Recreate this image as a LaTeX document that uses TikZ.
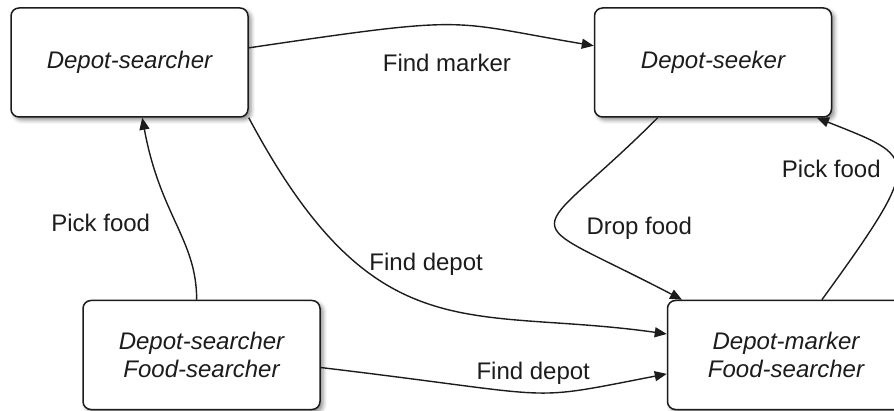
\documentclass[tikz,border=0pt]{standalone}
\usepackage{fontspec}
\setmainfont{Liberation Sans}
\usetikzlibrary{positioning,arrows.meta,shadows.blur}
\definecolor{ink}{HTML}{1C1C1C}

\begin{document}
\begin{tikzpicture}[
  x=0.5pt, y=-0.5pt,
  font=\fontsize{12}{14}\selectfont,
  state/.style={draw=ink, line width=0.75pt, fill=white, rounded corners=4pt,
                minimum width=118.5pt, minimum height=54.5pt, align=center,
                text=ink, font=\fontsize{12}{14}\selectfont\itshape,
                blur shadow={shadow xshift=1.5pt, shadow yshift=-1.5pt,
                             shadow blur radius=2pt, shadow opacity=45}},
  link/.style={draw=ink, line width=0.7pt, -{Triangle[length=6pt,width=5pt]}},
  lbl/.style={anchor=base, inner sep=0pt, text=ink}
]
\useasboundingbox (0,0) rectangle (894,411);
\clip (0,0) rectangle (894,411);

% the four agent states
\node[state] (searcher) at (129.5,62.5) {Depot-searcher};
\node[state, right=172.5pt of searcher] (seeker) {Depot-seeker};
\node[state, below=91pt of searcher, xshift=36pt] (both) {Depot-searcher\\Food-searcher};
\node[state, right=173pt of both] (marker) {Depot-marker\\Food-searcher};

% transitions
\draw[link] (searcher.7) .. controls +(227,-33.6) and +(-148,-24.8) .. (seeker.172)
  node[lbl, pos=.5, shift={(-4,46.6)}] {Find marker};
\draw[link] (searcher.south east) .. controls +(127,238) and +(-198,-28) .. (marker.170)
  node[lbl, pos=.5, shift={(-5,-34.5)}] {Find depot};
\draw[link] (both.95) .. controls +(0,-60) and +(18,98) .. (searcher.283)
  node[lbl, pos=.5, shift={(-75.5,9)}] {Pick food};
\draw[link] (both.-6.5) .. controls +(248,29.5) and +(-147,28.5) .. (marker.189)
  node[lbl, pos=.5, shift={(1.6,-13.3)}] {Find depot};
\draw[link] (seeker.225.5) .. controls +(-131.5,131.5) and +(-173,-90.5) .. (marker.152)
  node[lbl, pos=.5, shift={(83.5,10)}] {Drop food};
\draw[link] (marker.57) .. controls +(105,-144.5) and +(100,40) .. (seeker.-28.5)
  node[lbl, pos=.5, shift={(-65,8)}] {Pick food};
\end{tikzpicture}
\end{document}
